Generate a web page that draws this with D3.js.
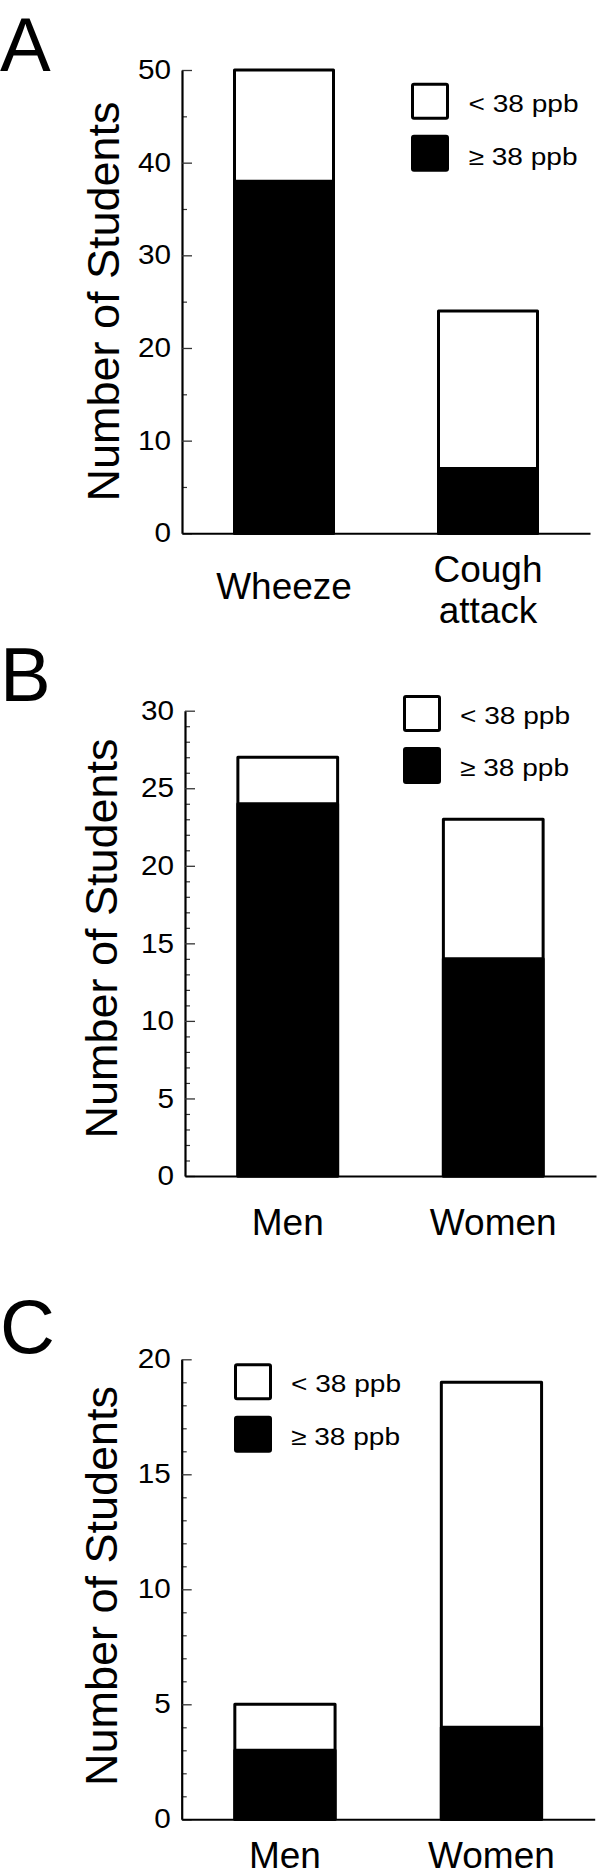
<!DOCTYPE html>
<html>
<head>
<meta charset="utf-8">
<script src="https://cdn.jsdelivr.net/npm/d3@7"></script>
<style>
  html, body { margin: 0; padding: 0; background: #fff; }
  svg { display: block; }
  text { font-family: "Liberation Sans", Arial, Helvetica, sans-serif; fill: #000; }
</style>
</head>
<body>
<div id="chart"></div>
<script>
// ---------------- data ----------------
const legendLabels = ["< 38 ppb", "\u2265 38 ppb"];

// Panel A
const categoriesA = ["Wheeze", "Cough attack"];
const labelLinesA = [["Wheeze"], ["Cough", "attack"]];
const highA = [38, 7];      // ≥ 38 ppb (black)
const lowA = [12, 17];      // < 38 ppb (white)
const majorTicksA = [0, 10, 20, 30, 40, 50];

// Panel B
const categoriesB = ["Men", "Women"];
const labelLinesB = [["Men"], ["Women"]];
const highB = [24, 14];
const lowB = [3, 9];
const majorTicksB = [0, 5, 10, 15, 20, 25, 30];

// Panel C
const categoriesC = ["Men", "Women"];
const labelLinesC = [["Men"], ["Women"]];
const highC = [3, 4];
const lowC = [2, 15];
const majorTicksC = [0, 5, 10, 15, 20];

// ---------------- layout ----------------
const W = 600, H = 1875;
const svg = d3.select("#chart").append("svg").attr("width", W).attr("height", H);

const panels = [
  { letter: "A", cats: categoriesA, lines: labelLinesA, high: highA, low: lowA,
    major: majorTicksA, minorStep: 5, max: 50,
    axisX: 182, xEnd: 590, yTop: 70, yZero: 533.3,
    labelX: 119, labelCY: 301.5, letterBase: 70.5,
    boxX: 411, whiteTop: 82.7, blackTop: 134.7, textX: 468.5, textBase: [112.3, 165],
    catBase: [[599.3], [581.7, 623.3]] },
  { letter: "B", cats: categoriesB, lines: labelLinesB, high: highB, low: lowB,
    major: majorTicksB, minorStep: 1, max: 30,
    axisX: 185, xEnd: 596, yTop: 710.7, yZero: 1176,
    labelX: 117, labelCY: 938.5, letterBase: 701,
    boxX: 403, whiteTop: 695, blackTop: 747, textX: 460, textBase: [724, 776],
    catBase: [[1235], [1235]] },
  { letter: "C", cats: categoriesC, lines: labelLinesC, high: highC, low: lowC,
    major: majorTicksC, minorStep: 1, max: 20,
    axisX: 181.7, xEnd: 594.7, yTop: 1359.3, yZero: 1819.3,
    labelX: 117, labelCY: 1586, letterBase: 1353,
    boxX: 234, whiteTop: 1363.3, blackTop: 1415.7, textX: 291, textBase: [1391.7, 1445],
    catBase: [[1868.3], [1868.3]] }
];

panels.forEach(p => {
  const g = svg.append("g");
  const x = d3.scaleBand().domain(p.cats).range([p.axisX, p.xEnd])
    .paddingInner(0.5).paddingOuter(0.25).align(0.5);
  const y = d3.scaleLinear().domain([0, p.max]).range([p.yZero, p.yTop]);
  const bw = x.bandwidth();

  // panel letter
  g.append("text").attr("x", 0).attr("y", p.letterBase)
    .attr("font-size", 76).text(p.letter);

  // bars: total (white) then high part (black)
  const rows = p.cats.map((c, i) => ({ c, high: p.high[i], total: p.high[i] + p.low[i] }));
  g.selectAll(".tot").data(rows).join("rect")
    .attr("x", d => x(d.c) + 1.5).attr("width", bw - 3)
    .attr("y", d => y(d.total)).attr("height", d => y(0) - y(d.total))
    .attr("fill", "#fff").attr("stroke", "#000").attr("stroke-width", 3)
    .attr("stroke-linejoin", "round");
  g.selectAll(".hi").data(rows).join("rect")
    .attr("x", d => x(d.c) + 1.5).attr("width", bw - 3)
    .attr("y", d => y(d.high)).attr("height", d => y(0) - y(d.high))
    .attr("fill", "#000").attr("stroke", "#000").attr("stroke-width", 3)
    .attr("stroke-linejoin", "round");

  // minor ticks
  const minor = d3.range(0, p.max + 0.001, p.minorStep).filter(v => !p.major.includes(v));
  const minorAxis = g.append("g").attr("transform", `translate(${p.axisX},0)`)
    .call(d3.axisLeft(y).tickValues(minor).tickSize(-5).tickSizeOuter(0).tickFormat(""));
  minorAxis.select(".domain").remove();
  minorAxis.selectAll(".tick line").attr("stroke", "#333").attr("stroke-width", 1.2);

  // major axis
  const yAxis = g.append("g").attr("transform", `translate(${p.axisX},0)`)
    .call(d3.axisLeft(y).tickValues(p.major).tickSize(-10).tickSizeOuter(0).tickPadding(10));
  yAxis.select(".domain").attr("stroke", "#000").attr("stroke-width", 2.2);
  yAxis.selectAll(".tick line").attr("stroke", "#333").attr("stroke-width", 1.3);
  yAxis.selectAll(".tick text").attr("font-size", 27)
    .attr("font-family", "'Liberation Sans', Arial, sans-serif")
    .attr("fill", "#000").attr("transform", "scale(1.1,1)");

  // x axis line
  const xAxis = g.append("g").attr("transform", `translate(0,${p.yZero})`)
    .call(d3.axisBottom(x).tickSize(0).tickSizeOuter(0).tickFormat(""));
  xAxis.select(".domain").attr("stroke", "#000").attr("stroke-width", 2);
  xAxis.selectAll(".tick").remove();

  // category labels
  p.cats.forEach((c, i) => {
    p.lines[i].forEach((ln, j) => {
      g.append("text").attr("x", x(c) + bw / 2).attr("y", p.catBase[i][j])
        .attr("text-anchor", "middle").attr("font-size", 37).text(ln);
    });
  });

  // y label
  g.append("text")
    .attr("transform", `translate(${p.labelX},${p.labelCY}) rotate(-90)`)
    .attr("text-anchor", "middle").attr("font-size", 45).text("Number of Students");

  // legend
  const tops = [p.whiteTop, p.blackTop];
  const fills = ["#fff", "#000"];
  legendLabels.forEach((lab, i) => {
    g.append("rect").attr("x", p.boxX + 1.5).attr("y", tops[i] + 1.5)
      .attr("width", 35).attr("height", 34).attr("rx", 1.5)
      .attr("fill", fills[i]).attr("stroke", "#000").attr("stroke-width", 3);
    g.append("text")
      .attr("transform", `translate(${p.textX},${p.textBase[i]}) scale(1.17,1)`)
      .attr("font-size", 24).text(lab);
  });
});
</script>
</body>
</html>
